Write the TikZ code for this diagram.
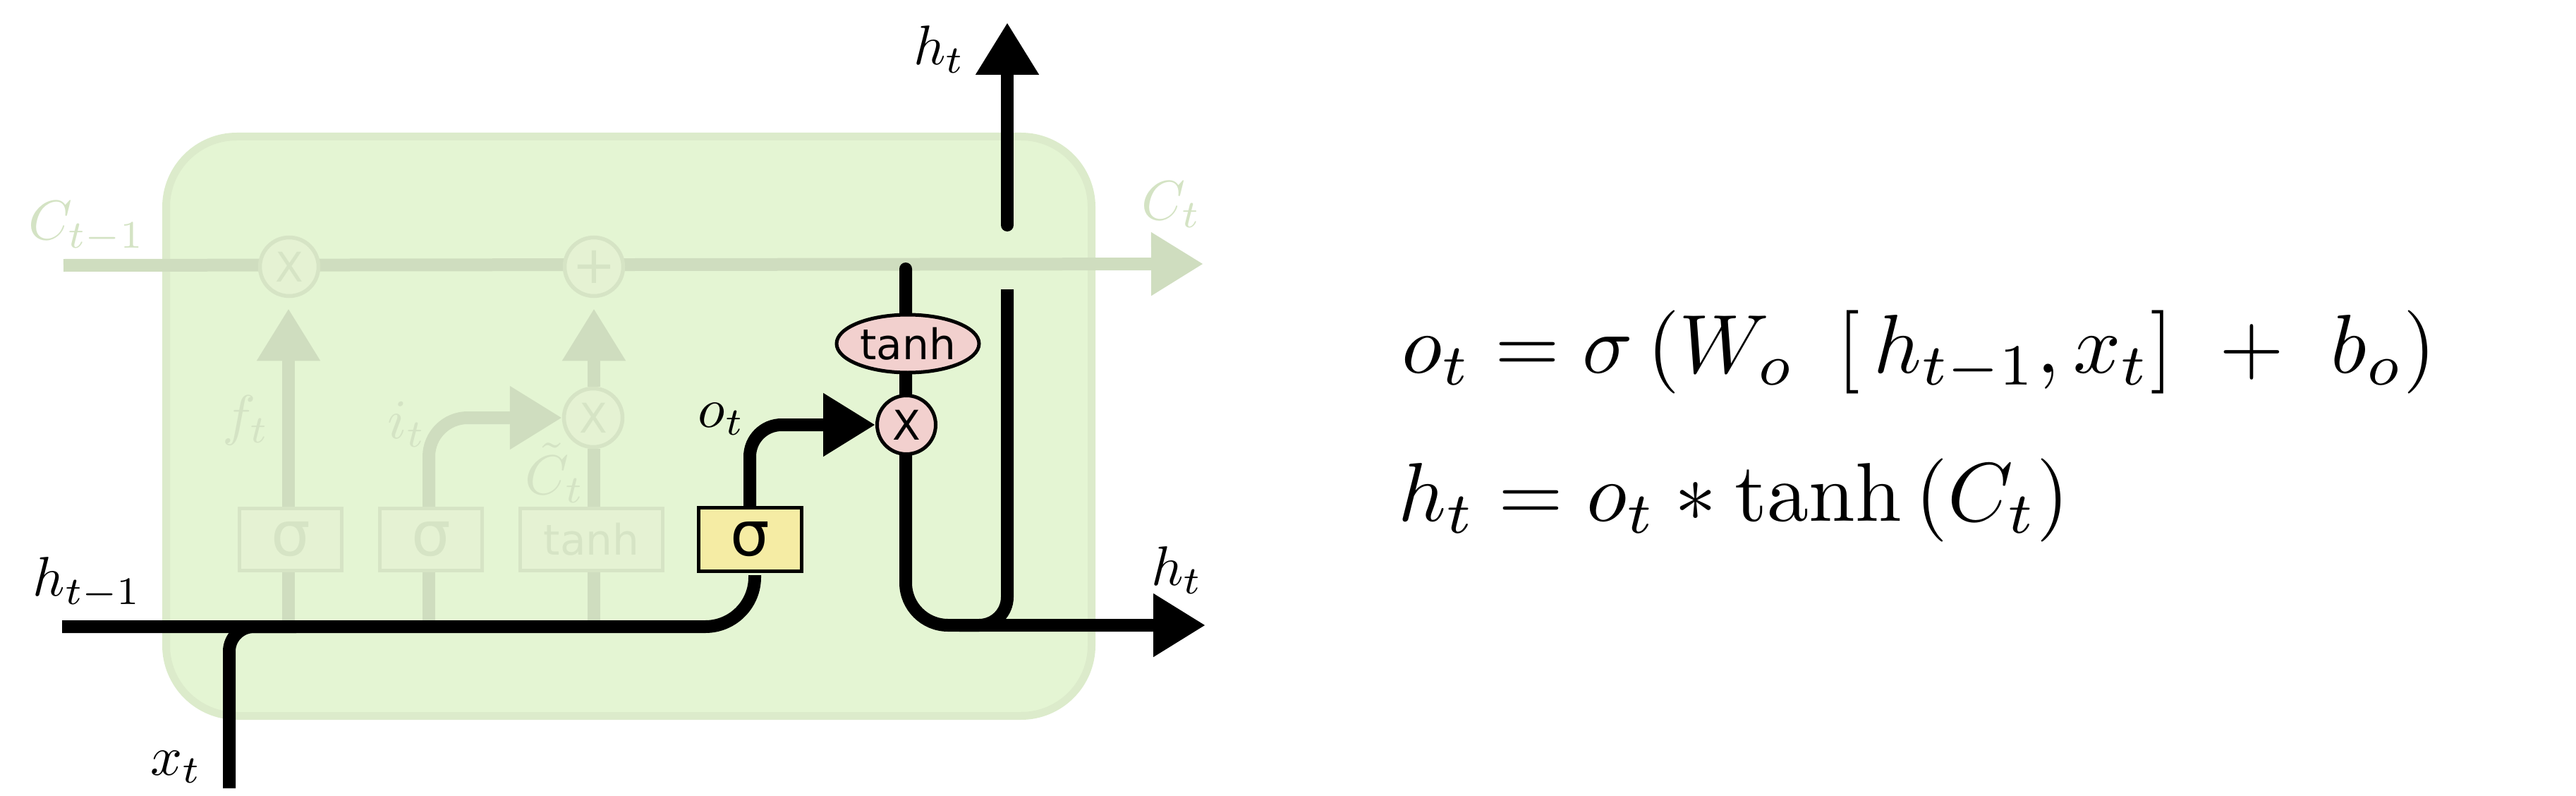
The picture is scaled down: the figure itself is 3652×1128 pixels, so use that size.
\documentclass[tikz,border=0pt]{standalone}
\usepackage{amsmath}
\usepackage{fontspec}
\usepackage{xcolor}
\usetikzlibrary{arrows.meta}
\usetikzlibrary{backgrounds}
\usetikzlibrary{shapes.geometric}
\newfontfamily\gatefont{DejaVu Sans}
\definecolor{cellfill}{RGB}{228,245,211}
\definecolor{cellline}{RGB}{220,235,203}
\definecolor{paleline}{RGB}{207,221,191}
\definecolor{palebox}{RGB}{229,242,211}
\definecolor{paledge}{RGB}{214,228,197}
\definecolor{paletext}{RGB}{212,227,196}
\definecolor{gateyellow}{RGB}{245,236,164}
\definecolor{gatepink}{RGB}{242,208,206}
\newcommand{\gatesize}[1]{\gatefont\fontsize{#1}{#1}\selectfont}
\tikzset{
	bigtip/.style={-{Triangle[length=7.4mm,width=8.5mm]}},
	paleflow/.style={paleline,line width=1.8mm},
	hiflow/.style={black,line width=1.8mm},
	palegate/.style={draw=paledge,line width=.55mm,fill=palebox,text=paledge,inner sep=0pt},
	hotgate/.style={draw=black,line width=.5mm,inner sep=0pt},
	palelab/.style={text=paletext,inner sep=0pt,scale=2.25},
	hilab/.style={text=black,inner sep=0pt,scale=2.25},
	eqnlab/.style={anchor=base west,inner sep=0pt,scale=3.36}
}

\begin{document}
\begin{tikzpicture}[x=.1mm,y=-.1mm]
	\useasboundingbox (0,0) rectangle (3652,1128);

	% free ends
	\coordinate [] (Cstart) at (90,376);
	\coordinate [] (Cend) at (1706,374);
	\coordinate [] (Hstart) at (88,888);
	\coordinate [] (Hbend) at (1070,888);
	\coordinate [] (Obelow) at (1070,815);
	\coordinate [] (Oabove) at (1063,720);
	\coordinate [] (Obend) at (1063,602);
	\coordinate [] (Xstart) at (325,1117);
	\coordinate [] (Xturn) at (325,888);
	\coordinate [] (Xend) at (420,888);
	\coordinate [] (Tanhtop) at (1284,381);
	\coordinate [] (Outbend) at (1284,886);
	\coordinate [] (Outend) at (1709,886);
	\coordinate [] (Upstart) at (1428,319);
	\coordinate [] (Upend) at (1428,32);
	\coordinate [] (Downstart) at (1428,410);
	\coordinate [] (Downbend) at (1428,886);
	\coordinate [] (Downend) at (1360,886);
	\coordinate [] (Fjoin) at (409,885);
	\coordinate [] (Ijoin) at (608,885);
	\coordinate [] (Cjoin) at (842,885);

	% pale gates
	\node [palegate,circle,minimum size=8.3mm,font=\gatesize{16.5}] (mulF) at (410,378) {X};
	\node [palegate,circle,minimum size=8.3mm,font=\gatesize{21}] (addC) at (842,378) {+};
	\node [palegate,circle,minimum size=8.3mm,font=\gatesize{16.5}] (mulC) at (841,592) {X};
	\node [palegate,minimum width=14.5mm,minimum height=8.8mm,font=\gatesize{25}] (boxF) at (412,764.5) {σ};
	\node [palegate,minimum width=14.5mm,minimum height=8.8mm,font=\gatesize{25}] (boxI) at (611,764.5) {σ};
	\node [palegate,minimum width=20.2mm,minimum height=8.8mm,font=\gatesize{17}] (boxC) at (838.5,764.5) {tanh};

	% bright gates
	\node [hotgate,fill=gateyellow,minimum width=14.6mm,minimum height=9mm,font=\gatesize{25}] (boxO) at (1063.5,764.5) {σ};
	\node [hotgate,fill=gatepink,ellipse,minimum width=20.2mm,minimum height=8.2mm,font=\gatesize{17}] (tanhO) at (1287,487) {tanh};
	\node [hotgate,fill=gatepink,circle,minimum size=8.3mm,font=\gatesize{16.5}] (mulO) at (1285,602) {X};

	\begin{scope}[on background layer]
	% cell
	\draw [cellline,fill=cellfill,line width=1.1mm,rounded corners=10mm] (235.5,193.5) rectangle (1547.5,1014.5);

	% pale flows
	\draw [paleflow,bigtip] (Cstart)--(Cend);
	\draw [paleflow] (Fjoin)--(Fjoin |- boxF.south);
	\draw [paleflow] (Ijoin)--(Ijoin |- boxI.south);
	\draw [paleflow] (Cjoin)--(Cjoin |- boxC.south);
	\draw [paleflow,bigtip,shorten >=1.5mm] (Fjoin |- boxF.north)--(Fjoin |- mulF.south);
	\draw [paleflow] (Cjoin |- boxC.north)--(Cjoin |- mulC.south);
	\draw [paleflow,bigtip,shorten >=1.5mm] (Cjoin |- mulC.north)--(Cjoin |- addC.south);
	\draw [paleflow,bigtip,rounded corners=5.5mm] (Ijoin |- boxI.north)--(Ijoin |- mulC.west)--(mulC.west);

	% black flows
	\draw [hiflow,rounded corners=7mm] (Hstart)--(Hbend)--(Obelow);
	\draw [hiflow,rounded corners=3.5mm] (Xstart)--(Xturn)--(Xend);
	\draw [hiflow,bigtip,rounded corners=4.5mm] (Oabove)--(Obend)--(mulO.west);
	\draw [hiflow,line cap=round,bigtip,rounded corners=6mm] (Tanhtop)--(Outbend)--(Outend);
	\draw [hiflow,rounded corners=4mm] (Downstart)--(Downbend)--(Downend);
	\draw [hiflow,line cap=round,bigtip] (Upstart)--(Upend);
	\end{scope}

	% labels
	\node [palelab] (labCold) at (123,322) {$C_{t-1}$};
	\node [palelab] (labCnew) at (1661,290) {$C_t$};
	\node [palelab] (labF) at (349,596) {$f_t$};
	\node [palelab] (labI) at (577,601) {$i_t$};
	\node [palelab] (labCtil) at (787,670) {$\tilde{C}_t$};
	\node [hilab] (labHold) at (124,826) {$h_{t-1}$};
	\node [hilab] (labX) at (250,1087) {$x_t$};
	\node [hilab] (labO) at (1023,594) {$o_t$};
	\node [hilab] (labHup) at (1332,70) {$h_t$};
	\node [hilab] (labHout) at (1669,808) {$h_t$};

	% equations
	\node [eqnlab] (eqO) at (1985,528) {$o_t=\sigma\left(W_o\ \left[\,h_{t-1},x_t\right]\ +\ b_o\right)$};
	\node [eqnlab] (eqH) at (1980,738) {$h_t=o_t*\tanh\left(C_t\right)$};
\end{tikzpicture}
\end{document}
